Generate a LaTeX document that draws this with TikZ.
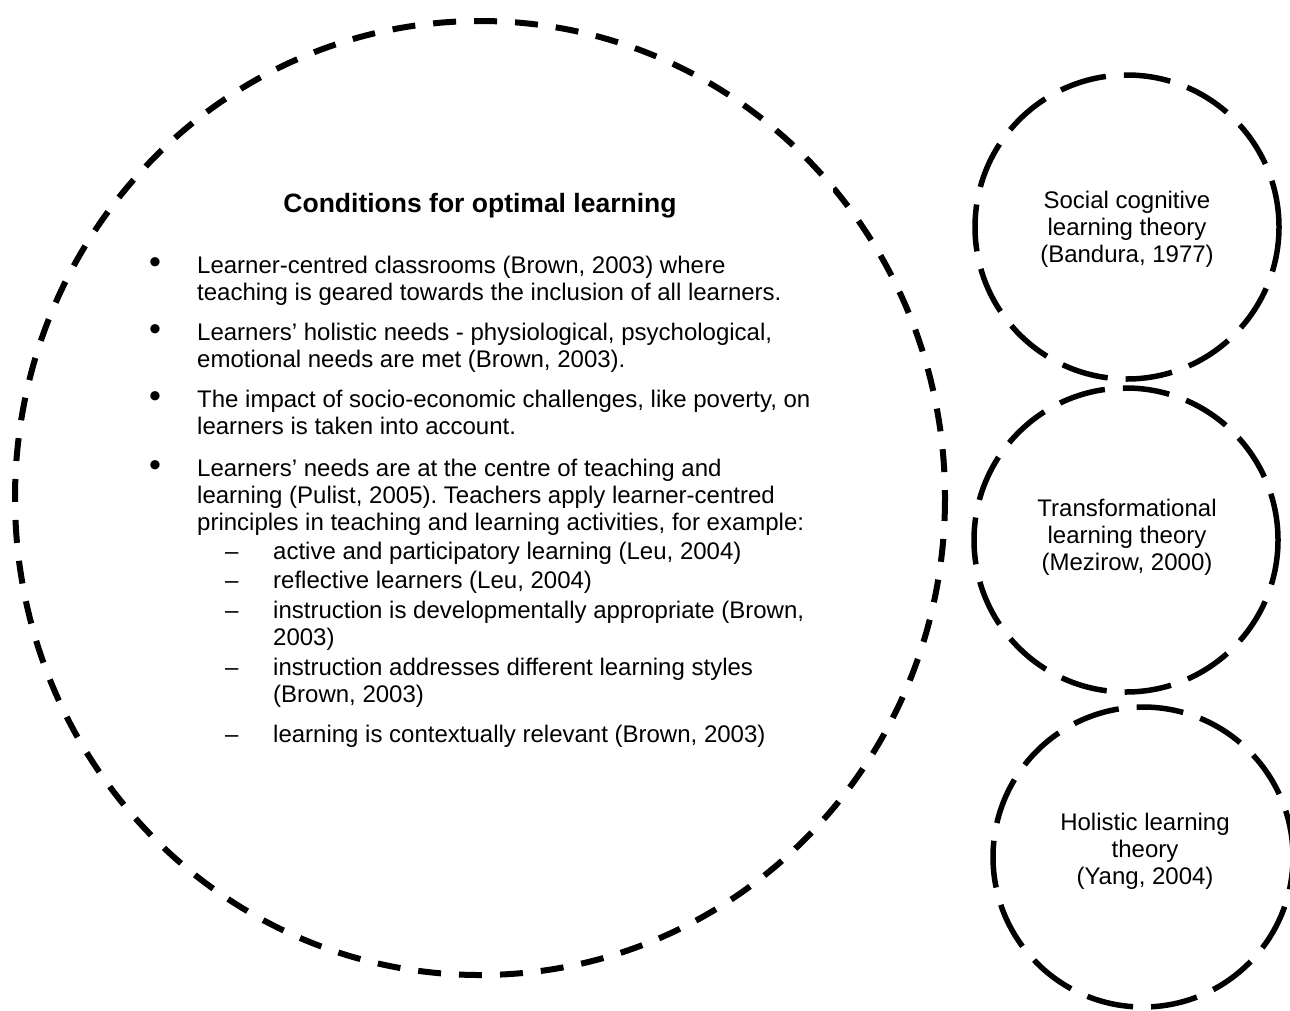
\documentclass[tikz,border=0pt]{standalone}
\usepackage{fontspec}
\setmainfont{Liberation Sans}
\begin{document}
\frenchspacing
\begin{tikzpicture}[x=1pt,y=-1pt,
  bigring/.style={line width=6pt,dash pattern=on 23pt off 18pt},
  smallring/.style={line width=5.5pt,dash pattern=on 47pt off 18pt},
  body/.style={inner sep=0pt,anchor=base west,font=\fontsize{24}{27}\selectfont},
  dot/.style={inner sep=0pt,anchor=center,font=\fontsize{34}{34}\selectfont},
  ctext/.style={inner sep=0pt,align=center,font=\fontsize{24}{27}\selectfont},
  titletext/.style={inner sep=0pt,anchor=base,font=\bfseries\fontsize{26.5}{30}\selectfont}]
\useasboundingbox (0,0) rectangle (1290,1010);
% big ring and the white text box laid over it
\draw[bigring] (480,498) ellipse [x radius=465, y radius=477];
\fill[white] (136,178) rectangle (833,780);
% small rings
\node[circle,draw,smallring,minimum size=304pt,inner sep=0pt] (c1) at (1127,227) {};
\node[circle,draw,smallring,minimum size=304pt,inner sep=0pt] (c2) at (1126,540) {};
\node[circle,draw,smallring,minimum size=300pt,inner sep=0pt] (c3) at (1143,857) {};
\node[ctext] (t1) at (1127,229) {Social cognitive\\learning theory\\(Bandura, 1977)};
\node[ctext] (t2) at (1127,537) {Transformational\\learning theory\\(Mezirow, 2000)};
\node[ctext] (t3) at (1145,851) {Holistic learning\\theory\\(Yang, 2004)};
% title
\node[titletext] (title) at (480,212.5) {Conditions for optimal learning};
% bullets
\node[dot] (d1) at (155,266) {•};
\node[dot] (d2) at (155,333) {•};
\node[dot] (d3) at (155,400) {•};
\node[dot] (d4) at (155,469) {•};
\node[body] (l1) at (197,273) {Learner-centred classrooms (Brown, 2003) where};
\node[body] (l2) at (197,300) {teaching is geared towards the inclusion of all learners.};
\node[body] (l3) at (197,340) {Learners’ holistic needs - physiological, psychological,};
\node[body] (l4) at (197,367) {emotional needs are met (Brown, 2003).};
\node[body] (l5) at (197,407) {The impact of socio-economic challenges, like poverty, on};
\node[body] (l6) at (197,434.5) {learners is taken into account.};
\node[body] (l7) at (197,476) {Learners’ needs are at the centre of teaching and};
\node[body] (l8) at (197,503) {learning (Pulist, 2005). Teachers apply learner-centred};
\node[body] (l9) at (197,530) {principles in teaching and learning activities, for example:};
% sub items
\node[body] (e1) at (225,559) {–};
\node[body] (e2) at (225,588) {–};
\node[body] (e3) at (225,618) {–};
\node[body] (e4) at (225,675) {–};
\node[body] (e5) at (225,742) {–};
\node[body] (s1) at (273,559) {active and participatory learning (Leu, 2004)};
\node[body] (s2) at (273,588) {reflective learners (Leu, 2004)};
\node[body] (s3) at (273,618) {instruction is developmentally appropriate (Brown,};
\node[body] (s3b) at (273,645) {2003)};
\node[body] (s4) at (273,675) {instruction addresses different learning styles};
\node[body] (s4b) at (273,702) {(Brown, 2003)};
\node[body] (s5) at (273,742) {learning is contextually relevant (Brown, 2003)};
\end{tikzpicture}
\end{document}
